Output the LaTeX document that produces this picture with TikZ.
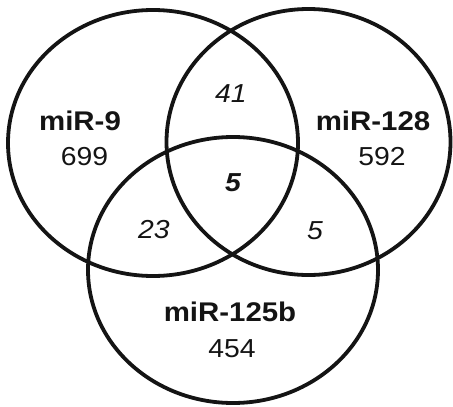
\documentclass[tikz,border=0pt]{standalone}
\usepackage{fontspec}
\setmainfont{Liberation Sans}
\usetikzlibrary{shapes.geometric}
\definecolor{ink}{HTML}{141414}
\tikzset{
  setbox/.style={draw=ink, line width=3.8pt, ellipse, inner sep=0pt,
    minimum width=290pt, minimum height=266pt},
  lbl/.style={inner sep=0pt, text=ink, xscale=1.09, transform shape,
    font=\fontsize{27}{29}\selectfont\bfseries},
  cnt/.style={inner sep=0pt, text=ink, xscale=1.09, transform shape,
    font=\fontsize{26}{28}\selectfont},
  cnti/.style={cnt, font=\fontsize{26}{28}\selectfont\itshape},
  cntb/.style={cnt, font=\fontsize{26}{28}\selectfont\bfseries\itshape}
}
\begin{document}
\begin{tikzpicture}[x=1pt,y=-1pt]
\useasboundingbox (0,0) rectangle (453,407);
\node[setbox] (A) at (153,143) {};
\node[setbox, minimum width=284pt] (B) at (308.5,142) {};
\node[setbox] (C) at (233,270) {};
\node[lbl] (lA) at (80,121) {miR-9};
\node[cnt] (nA) at (84.5,157) {699};
\node[lbl] (lB) at (373,121) {miR-128};
\node[cnt] (nB) at (382,157) {592};
\node[lbl] (lC) at (230,312) {miR-125b};
\node[cnt] (nC) at (232,349) {454};
\node[cnti] (nAB) at (231,94) {41};
\node[cntb] (nABC) at (233,183) {5};
\node[cnti] (nAC) at (154,230) {23};
\node[cnti] (nBC) at (315,231) {5};
\end{tikzpicture}
\end{document}
